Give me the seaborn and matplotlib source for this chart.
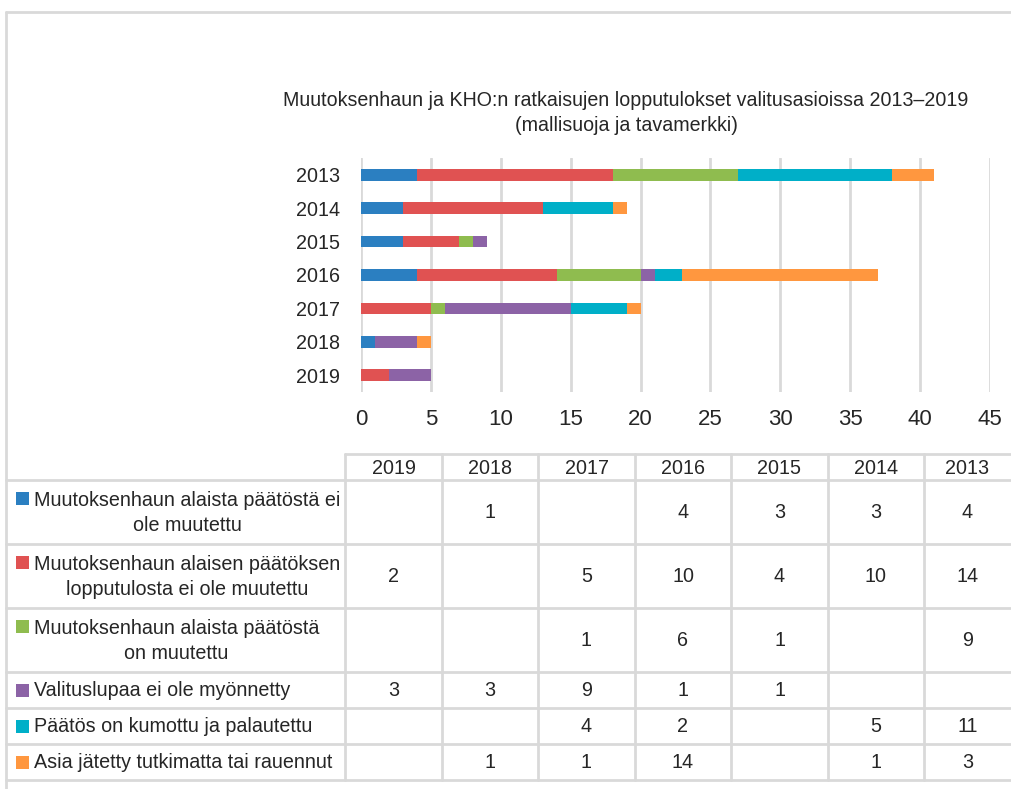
import pandas as pd
import numpy as np
import matplotlib
matplotlib.use("Agg")
import matplotlib.pyplot as plt
from matplotlib.patches import Rectangle
import seaborn as sns

# ======================================================
# DATA
# ======================================================
years = ["2013", "2014", "2015", "2016", "2017", "2018", "2019"]
table_years = ["2019", "2018", "2017", "2016", "2015", "2014", "2013"]

series_names = [
    "Muutoksenhaun alaista päätöstä ei\nole muutettu",
    "Muutoksenhaun alaisen päätöksen\nlopputulosta ei ole muutettu",
    "Muutoksenhaun alaista päätöstä\non muutettu",
    "Valituslupaa ei ole myönnetty",
    "Päätös on kumottu ja palautettu",
    "Asia jätetty tutkimatta tai rauennut",
]
# values per year 2013..2019 (None = empty cell)
ei_muutettu = [4, 3, 3, 4, None, 1, None]
lopputulos_ei = [14, 10, 4, 10, 5, None, 2]
on_muutettu = [9, None, 1, 6, 1, None, None]
ei_valituslupaa = [None, None, 1, 1, 9, 3, 3]
kumottu = [11, 5, None, 2, 4, None, None]
jatetty = [3, 1, None, 14, 1, 1, None]

colors = ["#2b7fc1", "#e05252", "#8fbc4f", "#8c63a6", "#00afc8", "#ff973f"]

title = "Muutoksenhaun ja KHO:n ratkaisujen lopputulokset valitusasioissa 2013–2019\n(mallisuoja ja tavamerkki)"

df = pd.DataFrame(
    [ei_muutettu, lopputulos_ei, on_muutettu, ei_valituslupaa, kumottu, jatetty],
    index=series_names, columns=years,
).T
cum = df.fillna(0).cumsum(axis=1)

# ======================================================
# STYLE
# ======================================================
sns.set_style("white")
plt.rcParams["font.family"] = ["Liberation Sans", "DejaVu Sans"]

GRID = "#d9d9d9"
FS = 14.2
W, H = 1011, 789

fig = plt.figure(figsize=(W / 100, H / 100), dpi=100)

# ======================================================
# BACKGROUND LAYER - FRAME + TABLE
# ======================================================
bg = fig.add_axes([0, 0, 1, 1])
bg.set_xlim(0, W)
bg.set_ylim(H, 0)
bg.axis("off")

# outer frame
bg.plot([6, W], [12, 12], color=GRID, lw=2)
bg.plot([6, 6], [12, H], color=GRID, lw=2)

col_edges = [345, 442, 538, 635, 731, 828, 924, W]
row_edges = [480, 544, 608, 672, 708, 744, 780]
header_top = 454

bg.plot([col_edges[0], W], [header_top, header_top], color=GRID, lw=2)
for y in row_edges:
    bg.plot([6, W], [y, y], color=GRID, lw=2)
for x in col_edges[:-1]:
    bg.plot([x, x], [header_top, row_edges[-1]], color=GRID, lw=2)

# header
for j, yr in enumerate(table_years):
    cx = (col_edges[j] + col_edges[j + 1]) / 2
    bg.text(cx, (header_top + row_edges[0]) / 2 + 1, yr, ha="center", va="center", fontsize=FS)

# rows
for i, name in enumerate(series_names):
    top, bot = row_edges[i], row_edges[i + 1]
    cy = (top + bot) / 2
    n_lines = name.count("\n") + 1
    first_y = cy - (n_lines - 1) * 14
    bg.add_patch(Rectangle((16, first_y - 6.5), 13, 13, color=colors[i], lw=0))
    bg.text(34, cy + 1, name, ha="left", va="center", multialignment="center",
            fontsize=FS, linespacing=1.45)
    for j, yr in enumerate(table_years):
        v = df.loc[yr, name]
        if pd.notna(v):
            cx = (col_edges[j] + col_edges[j + 1]) / 2
            bg.text(cx, cy + 1, f"{int(v)}", ha="center", va="center", fontsize=FS)

# ======================================================
# STACKED BAR CHART
# ======================================================
ax = fig.add_axes([361 / W, 1 - 392 / H, 629 / W, (392 - 158) / H])
for k in range(len(series_names) - 1, -1, -1):
    sns.barplot(x=cum.iloc[:, k].values, y=years, order=years, orient="h",
                color=colors[k], saturation=1, width=0.35, linewidth=0, ax=ax)

ax.set_xlim(0, 45)
ax.set_xticks(np.arange(0, 46, 5))
ax.grid(axis="x", color=GRID, lw=2)
ax.grid(axis="y", visible=False)
ax.set_axisbelow(True)
for s in ax.spines.values():
    s.set_visible(False)
ax.set_xlabel("")
ax.set_ylabel("")
ax.tick_params(axis="x", length=0, pad=12, labelsize=16)
ax.tick_params(axis="y", length=0, pad=15, labelsize=FS)
ax.patch.set_alpha(0)

fig.text(626 / W, 1 - 113 / H, title, ha="center", va="center", fontsize=14.1, linespacing=1.4)

plt.savefig("out.png", dpi=100)
plt.close()
